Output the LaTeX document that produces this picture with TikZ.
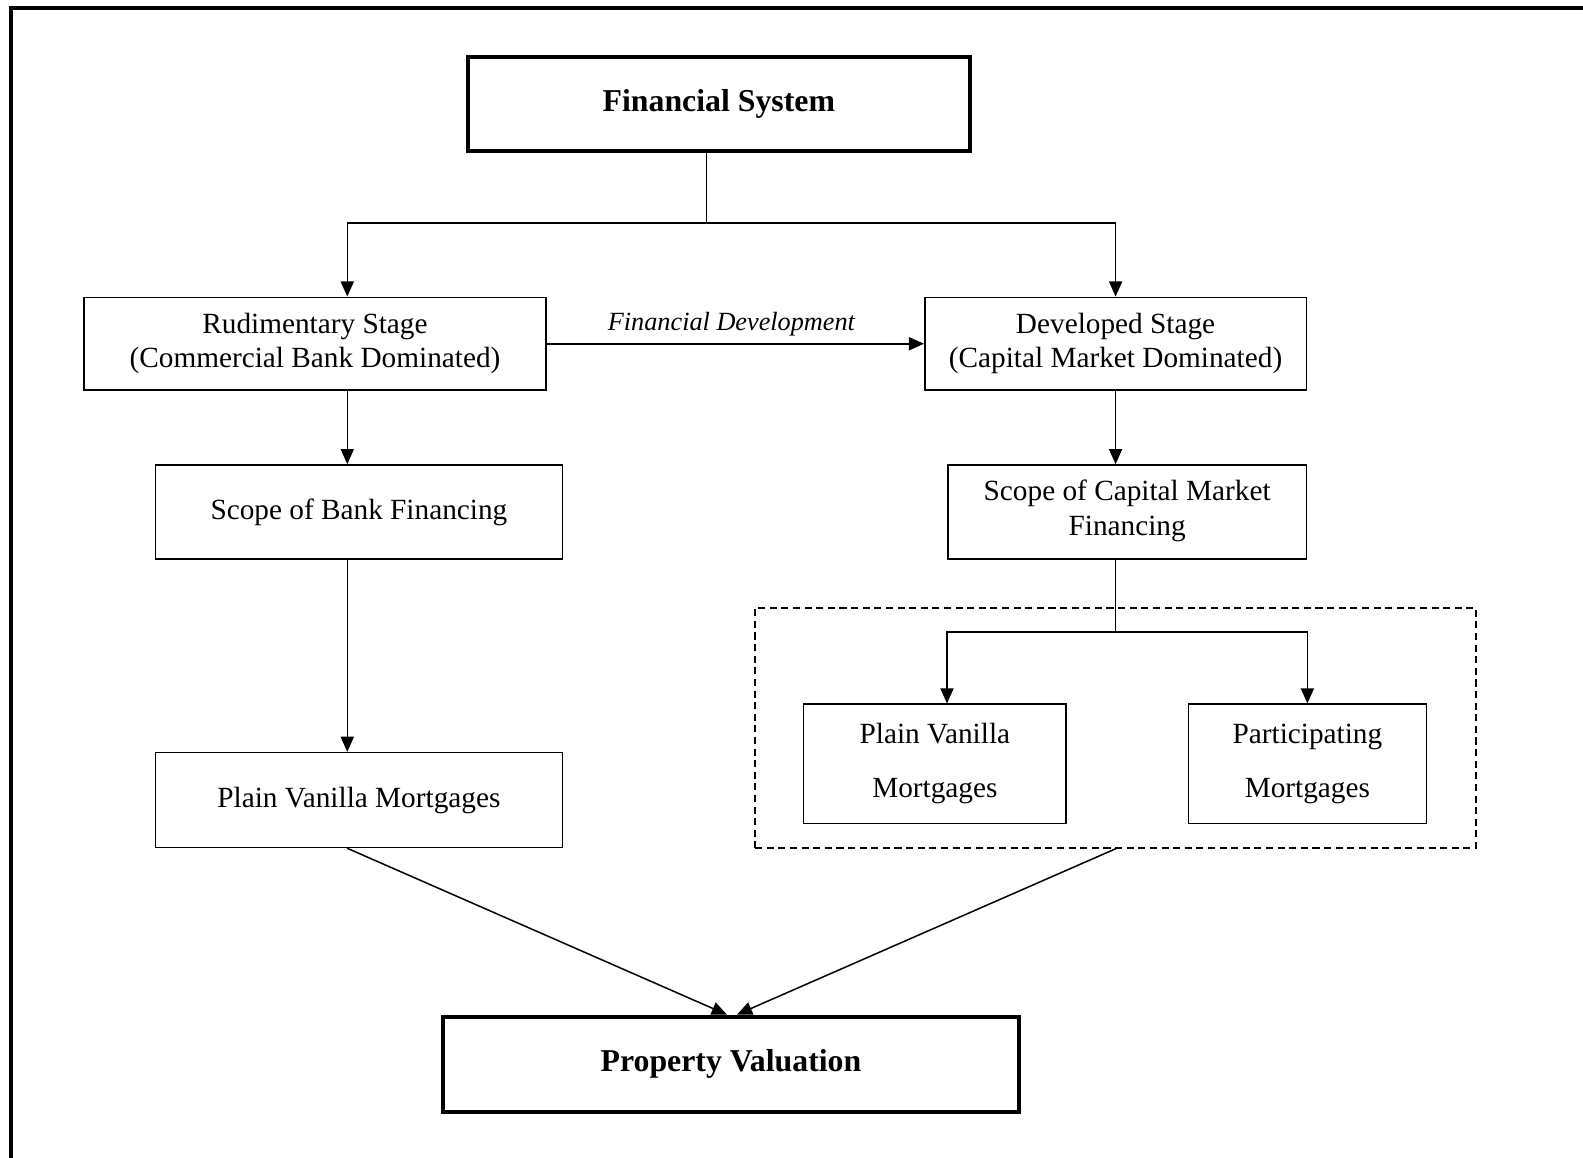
\documentclass[tikz,border=0pt]{standalone}
\usepackage{fontspec}
\setmainfont{Liberation Serif}
\usetikzlibrary{arrows.meta,calc}
\begin{document}
\begin{tikzpicture}[x=1pt,y=-1pt,
  box/.style={draw,line width=1.5pt,minimum width=#1,inner sep=0pt,align=center,
    font=\fontsize{29}{34}\selectfont},
  bigbox/.style={draw,line width=4pt,minimum width=#1,minimum height=93pt,inner sep=0pt,
    font=\fontsize{31.5}{36}\selectfont\bfseries},
  conn/.style={line width=1.5pt},
  arr/.style={line width=1.5pt,-{Triangle[length=15pt,width=13pt]}}]
\useasboundingbox (0,0) rectangle (1568,1147);
\draw[line width=4pt] (10.5,1147) -- (10.5,8) -- (1568,8);

\node[bigbox=497pt] (fs) at (712,103) {Financial System};
\node[box=458pt,minimum height=92pt] (rud) at (312,340.5) {Rudimentary Stage\\(Commercial Bank Dominated)};
\node[box=378pt,minimum height=92pt] (dev) at (1105,340.5) {Developed Stage\\(Capital Market Dominated)};
\node[box=403pt,minimum height=93pt] (sbf) at (355.5,507) {Scope of Bank Financing};
\node[box=355pt,minimum height=93pt,font=\fontsize{29}{35}\selectfont,text depth=8pt] (scm) at (1116.5,507) {Scope of Capital Market\\Financing};
\node[box=403pt,minimum height=94pt] (pvl) at (355.5,792.5) {Plain Vanilla Mortgages};
\node[draw,dash pattern=on 7pt off 4.5pt,line width=1.5pt,minimum width=714pt,minimum height=238pt,inner sep=0pt] (grp) at (1105,721) {};
\node[box=260pt,minimum height=118pt,font=\fontsize{29}{53}\selectfont] (pvr) at (926,756.5) {Plain Vanilla\\Mortgages};
\node[box=236pt,minimum height=118pt,font=\fontsize{29}{53}\selectfont] (par) at (1295,756.5) {Participating\\Mortgages};
\node[bigbox=570pt,minimum height=94pt] (pv) at (724,1054) {Property Valuation};

% top split
\coordinate (split) at (700,221);
\draw[conn] (fs.south -| split) -- (split);
\draw[arr] (split) -| ([xshift=32pt]rud.north);
\draw[arr] (split) -| (dev.north);

% financial development
\draw[arr] (rud.east) -- node[above=4pt,font=\fontsize{26}{30}\selectfont\itshape,xshift=-4pt] {Financial Development} (dev.west);

% left chain
\draw[arr] ([xshift=32pt]rud.south) -- ([xshift=32pt]rud.south |- sbf.north);
\draw[arr] ([xshift=32pt]rud.south |- sbf.south) -- ([xshift=32pt]rud.south |- pvl.north);

% right chain
\draw[arr] (dev.south) -- (dev.south |- scm.north);
\coordinate (split2) at (1105,626);
\draw[conn] (dev.south |- scm.south) -- (split2);
\draw[arr] (split2) -| ([xshift=12pt]pvr.north);
\draw[arr] (split2) -| (par.north);

% to property valuation
\draw[arr] ([xshift=-11.5pt]pvl.south) -- ([xshift=-4pt]pv.north);
\draw[arr] (grp.south) -- ([xshift=6pt]pv.north);
\end{tikzpicture}
\end{document}
